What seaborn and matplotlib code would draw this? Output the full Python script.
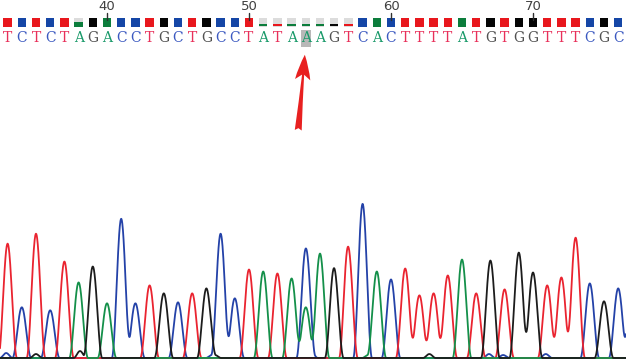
import numpy as np
import pandas as pd
import matplotlib
matplotlib.use("Agg")
import matplotlib.pyplot as plt
from matplotlib.patches import Rectangle
import seaborn as sns

sns.set_theme(style="white")
plt.rcParams['font.family'] = ['DejaVu Sans']

# ---------------- data ----------------
first_pos = 33
sequence = list("TCTCTAGACCTGCTGCCTATAAAGTCACTTTTATGTGGTTTCGC")
positions = list(range(first_pos, first_pos + len(sequence)))
low_quality = [38, 51, 52, 53, 54, 55, 56, 57]
quality_fill = [0.6, 0.2, 0.2, 0.2, 0.2, 0.2, 0.2, 0.2]
tick_positions = [40, 50, 60, 70]
tick_labels = ["40", "50", "60", "70"]
highlight_pos = 54

# trace peaks (channel, position, height)
peak_channel = list("TCTCTAGACCTGCTGCCTATAACAGTCACTTTTATGTGGTTTCGCC")
peak_pos = [33, 34, 35, 36, 37, 38, 39, 40, 41, 42, 43, 44, 45, 46, 47, 48, 49,
            50, 51, 52, 53, 54, 54, 55, 56, 57, 58, 59, 60, 61, 62, 63, 64, 65,
            66, 67, 68, 69, 70, 71, 72, 73, 74, 75, 76, 77]
peak_height = [115, 51, 125, 48, 97, 76, 92, 55, 140, 55, 73, 65, 56, 65, 70,
               125, 60, 89, 87, 85, 80, 51, 110, 105, 85, 107, 155, 87, 79, 90,
               63, 65, 83, 99, 65, 98, 69, 106, 86, 73, 81, 121, 75, 57, 70, 85]
# small baseline bumps
bump_channel = list("CGGGCGTCGCCCA")
bump_pos = [32.9, 35.0, 38.1, 47.6, 47.4, 55.9, 56.8, 54.4, 62.7, 66.9, 67.9, 70.9, 58.4]
bump_height = [5, 4, 7, 3, 3, 6, 8, 6, 4, 4, 3, 4, 3]

colors = {"T": "#ea2430", "C": "#2442a8", "A": "#14904a", "G": "#1c1c1c"}
sq_colors = {"T": "#e8171d", "C": "#1546a6", "A": "#0c7d3c", "G": "#050505"}
txt_colors = {"T": "#e8305a", "C": "#3a58c0", "A": "#1a9a6a", "G": "#505050"}

# ---------------- geometry ----------------
W, H = 626, 362
px_per_base = 14.2
x0_base = 40 - 107 / px_per_base
x1_base = x0_base + W / px_per_base
half_w = 0.66


def peak_shape(d, hw):
    out = np.cos(np.pi * d / (2 * hw)) ** 2
    out[np.abs(d) > hw] = 0.0
    return out


fig = plt.figure(figsize=(W / 100, H / 100), dpi=100)
fig.patch.set_facecolor("white")

# ---------------- trace ----------------
xs = np.linspace(x0_base, x1_base, 3000)
rows = []
for ch in ["A", "C", "T", "G"]:
    y = np.zeros_like(xs)
    for c, p, h in zip(peak_channel, peak_pos, peak_height):
        if c == ch:
            y += h * peak_shape(xs - p, half_w)
    for c, p, h in zip(bump_channel, bump_pos, bump_height):
        if c == ch:
            y += h * peak_shape(xs - p, 0.45)
    rows.append(pd.DataFrame({"x": xs, "signal": y, "channel": ch}))
df = pd.concat(rows, ignore_index=True)

ax_tr = fig.add_axes([0, 3.0 / H, 1, 175 / H])
sns.lineplot(data=df, x="x", y="signal", hue="channel", palette=colors,
             hue_order=["C", "T", "A", "G"], estimator=None, sort=False,
             linewidth=1.3, legend=False, ax=ax_tr)
ax_tr.set_xlim(x0_base, x1_base)
ax_tr.set_ylim(-1, 175)
ax_tr.axis("off")

# ---------------- header (pixel y coords) ----------------
ax = fig.add_axes([0, 0, 1, 1], facecolor="none")
ax.set_xlim(x0_base, x1_base)
ax.set_ylim(H, 0)
ax.axis("off")

sq_w = 8.5 / px_per_base
lq = dict(zip(low_quality, quality_fill))
good_pos = [p for p in positions if p not in lq]
good_cols = [sq_colors[sequence[p - first_pos]] for p in good_pos]
ax.bar(good_pos, [9] * len(good_pos), bottom=18, width=sq_w, color=good_cols,
       linewidth=0)
lq_pos = list(lq.keys())
ax.bar(lq_pos, [9] * len(lq_pos), bottom=18, width=sq_w, color="#dcdcdc",
       linewidth=0)
ax.bar(lq_pos, [9 * lq[p] if lq[p] > 0.3 else 1.8 for p in lq_pos],
       bottom=[27 - 9 * lq[p] if lq[p] > 0.3 else 24 for p in lq_pos],
       width=sq_w, color=[sq_colors[sequence[p - first_pos]] for p in lq_pos],
       linewidth=0)

# position ticks and labels
for p, lab in zip(tick_positions, tick_labels):
    ax.plot([p, p], [13, 20], color="#303030", lw=1.0)
    ax.text(p, 7, lab, ha="center", va="center", fontsize=9.5, color="#404040")

# highlight box
ax.add_patch(Rectangle((highlight_pos - 0.36, 29.5), 0.72, 17.5,
                       facecolor="#b8b8b8", edgecolor="none", zorder=1))

# base letters
for p, b in zip(positions, sequence):
    ax.text(p, 38.5, b, ha="center", va="center", fontsize=10,
            family="DejaVu Serif", color=txt_colors[b], zorder=3)

# arrow
ax.annotate("", xy=(highlight_pos - 0.05, 52), xytext=(highlight_pos - 0.55, 133),
            arrowprops=dict(arrowstyle="fancy,head_length=0.9,head_width=0.55,tail_width=0.25",
                            color="#e82020", mutation_scale=20, lw=0))

fig.savefig("out.png", dpi=100, facecolor="white")
